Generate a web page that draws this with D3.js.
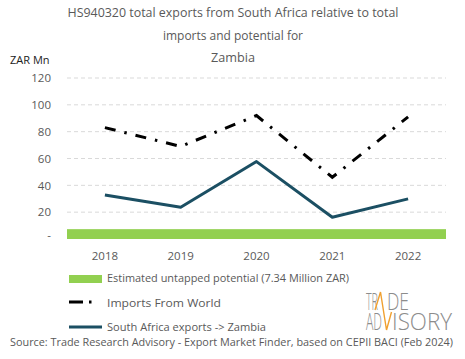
<!DOCTYPE html>
<html><head><meta charset="utf-8">
<script src="https://cdn.jsdelivr.net/npm/d3@7"></script>
<style>body{margin:0;background:#fff;} text{font-family:"Open Sans",sans-serif;}</style>
</head><body><svg id="c" width="465" height="359"></svg>
<script>
const years = ["2018","2019","2020","2021","2022"];
const importsWorld = [83, 69, 92, 46, 91];
const saExports = [32.8, 23.6, 57.7, 16.2, 29.9];
const untappedPotential = 7.34;
const yTicks = [0, 20, 40, 60, 80, 100, 120];
const titleLines = ["HS940320 total exports from South Africa relative to total","imports and potential  for","Zambia"];

const svg = d3.select("#c");
const gray = "#595959";
const x = d3.scaleBand().domain(years).range([67, 446]);
const y = d3.scaleLinear().domain([0, 120]).range([239, 78]);

// title
svg.selectAll("text.title").data(titleLines).join("text")
  .attr("x", 233).attr("y", (d,i)=>17 + i*22.5)
  .attr("text-anchor","middle").attr("fill",gray).attr("font-size",12)
  .attr("textLength",(d,i)=>[331,140,44][i]).attr("lengthAdjust","spacingAndGlyphs")
  .text(d=>d);

svg.append("text").attr("x",10).attr("y",64).attr("font-size",11).attr("fill","#222").text("ZAR Mn");

// grid
svg.selectAll("line.grid").data(yTicks.filter(d=>d>0)).join("line")
  .attr("x1",67).attr("x2",446).attr("y1",d=>y(d)).attr("y2",d=>y(d))
  .attr("stroke","#d9d9d9").attr("stroke-dasharray","4,3").attr("stroke-width",1);

// y labels
const yAxis = d3.axisLeft(y).tickValues(yTicks).tickSize(0).tickPadding(0)
  .tickFormat(d=> d===0 ? "-" : d);
const ya = svg.append("g").attr("transform","translate(51,0)").call(yAxis);
ya.select(".domain").remove();
ya.selectAll("text").attr("fill",gray).attr("font-size",11.5).attr("font-family","Open Sans, sans-serif")
  .attr("dy", d=> d===0 ? "-0.05em" : "0.32em");

// x labels
const xAxis = d3.axisBottom(x).tickSize(0).tickPadding(0);
const xa = svg.append("g").attr("transform","translate(0,252)").call(xAxis);
xa.select(".domain").remove();
xa.selectAll("text").attr("fill",gray).attr("font-size",11.5).attr("font-family","Open Sans, sans-serif").attr("dy","0.7em");

// untapped potential bar
svg.append("rect").attr("x",x.range()[0]).attr("width",x.range()[1]-x.range()[0])
  .attr("y",y(untappedPotential)).attr("height",y(0)-y(untappedPotential)).attr("fill","#92d050");

const line = d3.line().x((d,i)=>x(years[i])+x.bandwidth()/2).y(d=>y(d));
svg.append("path").attr("d",line(importsWorld)).attr("fill","none").attr("stroke","#000")
  .attr("stroke-width",3).attr("stroke-dasharray","11,9,2.5,9");
svg.append("path").attr("d",line(saExports)).attr("fill","none").attr("stroke","#1b4f63")
  .attr("stroke-width",3).attr("stroke-linejoin","round");

// legend
const lg = svg.append("g");
lg.append("rect").attr("x",69).attr("y",275).attr("width",33).attr("height",8).attr("fill","#92d050");
lg.append("line").attr("x1",69).attr("x2",92).attr("y1",302).attr("y2",302).attr("stroke","#000")
  .attr("stroke-width",3).attr("stroke-dasharray","14,6,2.5,20");
lg.append("line").attr("x1",69).attr("x2",102).attr("y1",327).attr("y2",327).attr("stroke","#1b4f63").attr("stroke-width",3);
const legTexts = ["Estimated untapped potential (7.34 Million ZAR)","Imports From World","South Africa exports -> Zambia"];
lg.selectAll("text").data(legTexts).join("text").attr("x",107).attr("y",(d,i)=>282+i*24.5)
  .attr("font-size",11.5).attr("fill",gray)
  .attr("textLength",(d,i)=>[242,114,159][i]).attr("lengthAdjust","spacingAndGlyphs").text(d=>d);

// source
svg.append("text").attr("x",10).attr("y",346).attr("font-size",11).attr("fill",gray)
  .attr("textLength",443).attr("lengthAdjust","spacingAndGlyphs")
  .text("Source: Trade Research Advisory - Export Market Finder, based on CEPII BACI (Feb 2024)");

// logo (single text element with positioned parts)
const logoParts = [["TR",366,310,12],["DE",387,310,22],["AD",366,330,16],["ISORY",392,330,60]];
svg.append("text").attr("fill","#8c8c8c").attr("font-family","DejaVu Sans, sans-serif").attr("font-weight",200).attr("font-size",24)
  .selectAll("tspan").data(logoParts).join("tspan")
  .attr("x",d=>d[1]).attr("y",d=>d[2]).attr("textLength",d=>d[3]).attr("lengthAdjust","spacingAndGlyphs").text(d=>d[0]);
svg.append("path").attr("d","M375,310 L380.5,292 L386.5,330 L391.5,312").attr("fill","none")
  .attr("stroke","#f0a030").attr("stroke-width",1.4);
</script></body></html>
